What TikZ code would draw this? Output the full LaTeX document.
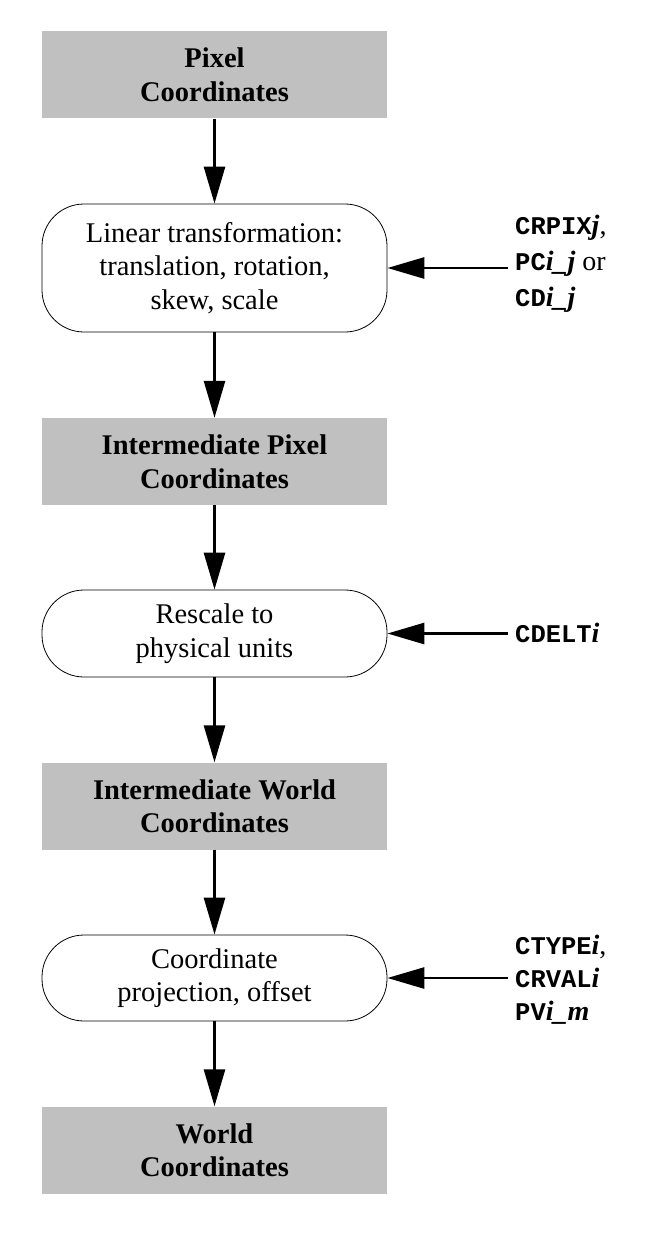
\documentclass[tikz,border=0pt]{standalone}
\usepackage{fontspec}
\setmainfont{Liberation Serif}
\newfontfamily\courfont{Liberation Mono}
\usetikzlibrary{arrows.meta}
\definecolor{boxgray}{RGB}{192,192,192}
\newcommand\bigfont{\fontsize{28.5}{33.5}\selectfont}
\newcommand\kw[1]{{\fontsize{25.5}{25.5}\selectfont\courfont\bfseries #1}}
\newcommand\vr[1]{\textbf{\textit{#1}}}
\tikzset{
  graybox/.style={fill=boxgray, minimum width=345pt, minimum height=87pt, align=center, font=\bigfont\bfseries, inner sep=0pt},
  roundbox/.style={draw, line width=0.8pt, rounded corners=42pt, minimum width=345pt, align=center, font=\bigfont, inner sep=0pt},
  flow/.style={line width=2.8pt, -{Triangle[length=37pt,width=21pt]}},
  keylabel/.style={anchor=west, align=left, inner sep=0pt}
}
\begin{document}
\begin{tikzpicture}[x=1pt,y=-1pt]
\useasboundingbox (0,0) rectangle (658,1236);
\node[graybox] (g1) at (214.5,75) {Pixel\\Coordinates};
\node[roundbox, minimum height=128pt] (r1) at (214.5,268) {Linear transformation:\\translation, rotation,\\skew, scale};
\node[graybox] (g2) at (214.5,461.5) {Intermediate Pixel\\Coordinates};
\node[roundbox, minimum height=87pt] (r2) at (214.5,633.5) {Rescale to\\physical units};
\node[graybox] (g3) at (214.5,806) {Intermediate World\\Coordinates};
\node[roundbox, minimum height=86pt] (r3) at (214.5,978) {Coordinate\\projection, offset};
\node[graybox] (g4) at (214.5,1150) {World\\Coordinates};

\node[keylabel, font=\fontsize{28}{36}\selectfont] (k1) at (515,264) {\kw{CRPIX}\vr{j},\\\kw{PC}\vr{i\_j} or\\\kw{CD}\vr{i\_j}};
\node[keylabel, font=\fontsize{28}{36}\selectfont] (k2) at (515,633) {\kw{CDELT}\vr{i}};
\node[keylabel, font=\fontsize{28}{33}\selectfont] (k3) at (515,980) {\kw{CTYPE}\vr{i},\\\kw{CRVAL}\vr{i}\\\kw{PV}\vr{i\_m}};

\coordinate (s1) at (508,268);
\coordinate (s2) at (508,633.5);
\coordinate (s3) at (508,978);

\draw[flow] (g1.south) -- (r1.north);
\draw[flow] (r1.south) -- (g2.north);
\draw[flow] (g2.south) -- (r2.north);
\draw[flow] (r2.south) -- (g3.north);
\draw[flow] (g3.south) -- (r3.north);
\draw[flow] (r3.south) -- (g4.north);
\draw[flow] (s1) -- (r1.east);
\draw[flow] (s2) -- (r2.east);
\draw[flow] (s3) -- (r3.east);
\end{tikzpicture}
\end{document}
